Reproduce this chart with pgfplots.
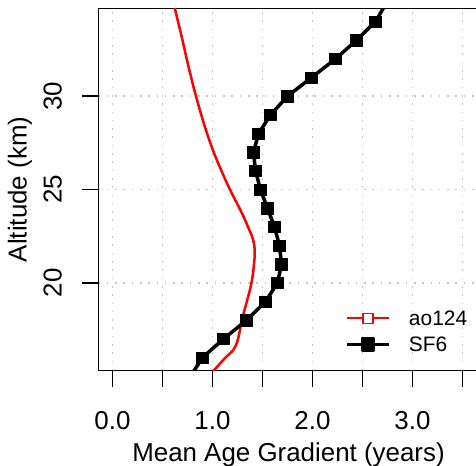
\documentclass[border=0pt]{standalone}
\usepackage{fontspec}
\setmainfont{Liberation Sans}
\usepackage{pgfplots}
\pgfplotsset{compat=1.18}
\begin{document}
\begin{tikzpicture}
\begin{axis}[
  at={(0,0)}, anchor=south west,
  scale only axis, width=380bp, height=362.2bp,
  xmin=-0.14, xmax=3.66, ymin=15.31, ymax=34.71,
  axis line style={line width=1.5bp, black},
  xtick={0,0.5,1,1.5,2,2.5,3,3.5},
  xticklabels={0.0,,1.0,,2.0,,3.0,},
  ytick={20,25,30}, yticklabels={20,25,30},
  xtick pos=bottom, ytick pos=left,
  tick align=outside, major tick length=16bp,
  every tick/.style={black, line width=1.5bp},
  tick label style={font=\fontsize{26}{26}\selectfont},
  xticklabel style={anchor=base}, xticklabel shift=42.8bp,
  yticklabel style={rotate=90, anchor=base}, yticklabel shift=20.8bp,
  grid=major,
  major grid style={gray!45, line width=1.6bp, dash pattern=on 1.6bp off 6.7bp},
  xlabel={Mean Age Gradient (years)}, ylabel={Altitude (km)},
  label style={font=\fontsize{26}{26}\selectfont},
  xlabel style={at={(axis description cs:0.5,-0.2518)}, anchor=base},
  ylabel style={at={(axis description cs:-0.1889,0.5)}, anchor=base},
  legend cell align=left,
  legend style={draw=none, fill=none, inner sep=0pt, outer sep=0pt,
    font=\fontsize{21}{21}\selectfont,
    nodes={inner sep=0pt, text height=19.7bp, text depth=6.3bp},
    /tikz/row sep=0pt, /tikz/column sep=18.5bp,
    at={(axis description cs:0.6513,0.180)}, anchor=north west},
]
\addplot[red, line width=2.5bp, line join=round, smooth, tension=0.5,
  legend image code/.code={
    \draw[red, line width=2bp] (0bp,0bp) -- (42bp,0bp);
    \draw[red, line width=1.6bp, fill=white] (15.7bp,-5bp) rectangle (25.7bp,5bp);}
] table {
x y
0.96 15.0
1.045 15.5
1.13 16.0
1.207 16.4
1.245 16.8
1.268 17.3
1.282 17.7
1.295 18.0
1.318 18.5
1.343 19.0
1.368 19.5
1.39 20.0
1.405 20.5
1.415 21.0
1.422 21.5
1.418 22.0
1.395 22.5
1.355 23.0
1.315 23.5
1.27 24.0
1.222 24.5
1.175 25.0
1.131 25.5
1.09 26.0
1.05 26.5
1.012 27.0
0.978 27.5
0.946 28.0
0.916 28.5
0.888 29.0
0.861 29.5
0.835 30.0
0.81 30.5
0.787 31.0
0.764 31.5
0.742 32.0
0.721 32.5
0.70 33.0
0.678 33.5
0.655 34.0
0.61 35.0
};
\addlegendentry{ao124}
\addplot[black, line width=3.5bp, line join=round, mark=square*, mark size=5.8bp,
  mark options={solid, line width=0.5bp},
  legend image code/.code={
    \draw[black, line width=2.5bp] (0bp,0bp) -- (42bp,0bp);
    \fill[black] (15.2bp,-5.5bp) rectangle (26.2bp,5.5bp);}
] table {
x y
0.78 15
0.90 16
1.11 17
1.34 18
1.53 19
1.65 20
1.69 21
1.67 22
1.62 23
1.55 24
1.48 25
1.43 26
1.41 27
1.46 28
1.58 29
1.75 30
1.99 31
2.23 32
2.44 33
2.63 34
2.74 35
};
\addlegendentry{SF6}
\end{axis}
\pgfresetboundingbox
\useasboundingbox (-98.5bp,-95.5bp) rectangle (377.5bp,370.5bp);
\end{tikzpicture}
\end{document}
